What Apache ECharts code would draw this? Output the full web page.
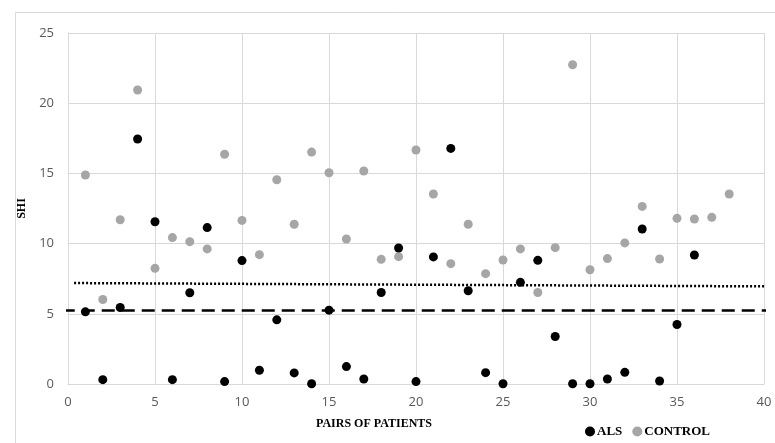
<!DOCTYPE html>
<html>
<head>
<meta charset="utf-8">
<script src="https://cdn.jsdelivr.net/npm/echarts@6/dist/echarts.min.js"></script>
<style>html,body{margin:0;padding:0;background:#fff}#c{width:775px;height:443px}</style>
</head>
<body>
<div id="c"></div>
<script>
var alsX = [1,2,3,4,5,6,7,8,9,10,11,12,13,14,15,16,17,18,19,20,21,22,23,24,25,26,27,28,29,30,31,32,33,34,35,36];
var alsY = [5.14,0.31,5.45,17.45,11.56,0.31,6.5,11.14,0.17,8.79,0.98,4.57,0.79,0.02,5.26,1.24,0.36,6.52,9.69,0.17,9.05,16.78,6.64,0.81,0.02,7.24,8.81,3.38,0.02,0.02,0.36,0.83,11.04,0.21,4.24,9.19];
var ctrlX = [1,2,3,4,5,6,7,8,9,10,11,12,13,14,15,16,17,18,19,20,21,22,23,24,25,26,27,28,29,30,31,32,33,34,35,36,37,38];
var ctrlY = [14.89,6.02,11.7,20.94,8.24,10.43,10.14,9.62,16.36,11.65,9.21,14.55,11.38,16.52,15.05,10.33,15.17,8.88,9.07,16.67,13.53,8.57,11.38,7.86,8.83,9.62,6.52,9.71,22.74,8.14,8.93,10.05,12.65,8.9,11.8,11.75,11.87,13.53];
var dottedLine = [[0.35,7.19],[40.6,6.95]];
var dashedLine = [[-0.36,5.24],[40.6,5.24]];
var xTicks = [0,5,10,15,20,25,30,35,40];
var yTicks = [0,5,10,15,20,25];

function pairs(xs, ys){ return xs.map(function(x,i){ return [x, ys[i]]; }); }

var chart = echarts.init(document.getElementById('c'));
var tickFont = {color:'#595959', fontSize:13, fontFamily:'Open Sans, Liberation Sans, sans-serif'};
chart.setOption({
  animation:false,
  backgroundColor:'#fff',
  graphic:[{type:'rect', shape:{x:15.5,y:12.5,width:800,height:500}, style:{fill:'none', stroke:'#d9d9d9', lineWidth:1}, silent:true, z:-1}],
  grid:{left:68, right:11, top:33, bottom:59},
  xAxis:{type:'value', min:xTicks[0], max:xTicks[xTicks.length-1], interval:5,
    name:'PAIRS OF PATIENTS', nameLocation:'middle', nameGap:34,
    nameTextStyle:{fontFamily:'Liberation Serif, serif', fontWeight:'bold', fontSize:12, color:'#000', padding:[0,84,0,0]},
    axisLine:{show:true, lineStyle:{color:'#d9d9d9'}}, axisTick:{show:false},
    axisLabel:Object.assign({margin:12}, tickFont),
    splitLine:{show:true, lineStyle:{color:'#d9d9d9'}}},
  yAxis:{type:'value', min:yTicks[0], max:yTicks[yTicks.length-1], interval:5,
    name:'SHI', nameLocation:'middle', nameGap:27, nameRotate:90,
    nameTextStyle:{fontFamily:'Liberation Serif, serif', fontWeight:'bold', fontSize:12, color:'#000'},
    axisLine:{show:true, lineStyle:{color:'#d9d9d9'}}, axisTick:{show:false},
    axisLabel:Object.assign({margin:14}, tickFont),
    splitLine:{show:true, lineStyle:{color:'#d9d9d9'}}},
  legend:{data:['ALS','CONTROL'], left:580, top:420, icon:'circle', itemWidth:10, itemHeight:10, itemGap:10,
    textStyle:{fontFamily:'Liberation Serif, serif', fontWeight:'bold', fontSize:13, color:'#000', padding:[0,0,0,-3]}},
  series:[
    {name:'CONTROL', type:'scatter', data:pairs(ctrlX, ctrlY), symbolSize:9, itemStyle:{color:'#a6a6a6', opacity:1}, z:2},
    {name:'ALS', type:'scatter', data:pairs(alsX, alsY), symbolSize:9, itemStyle:{color:'#000', opacity:1}, z:3},
    {name:'dotted', type:'line', data:dottedLine, clip:false, symbol:'none', lineStyle:{color:'#000', width:2.5, type:[2,2]}, z:4},
    {name:'dashed', type:'line', data:dashedLine, clip:false, symbol:'none', lineStyle:{color:'#000', width:2.5, type:[13,7]}, z:4}
  ]
});
</script>
</body>
</html>
